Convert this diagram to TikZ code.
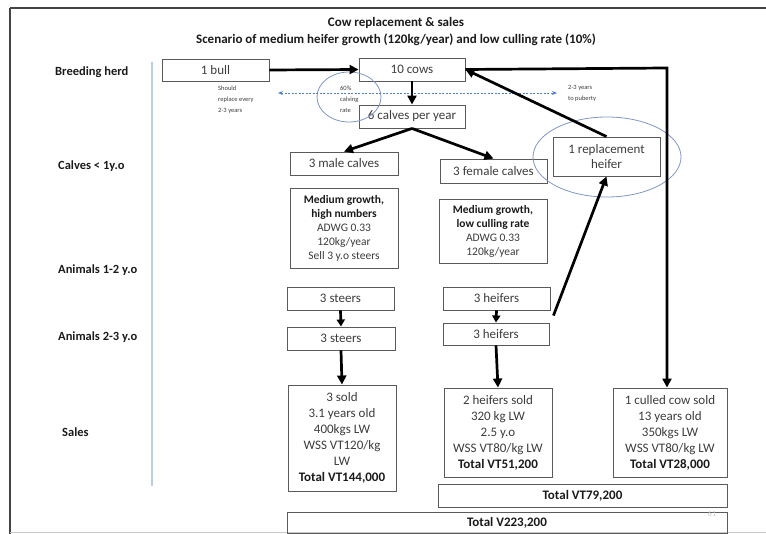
\documentclass[tikz,border=0pt]{standalone}
\usepackage{fontspec}
\setmainfont{Carlito}
\usetikzlibrary{arrows.meta}
\definecolor{boxline}{HTML}{5A5A5A}
\definecolor{bodytext}{HTML}{3C3C3C}
\definecolor{heading}{HTML}{1A1A1A}
\definecolor{ringblue}{HTML}{7F96C6}
\definecolor{dashblue}{HTML}{4F7FCF}
\definecolor{rulegray}{HTML}{444444}
\definecolor{pagegray}{HTML}{C8C8C8}
\definecolor{axisblue}{HTML}{B9CDE6}
\tikzset{
  box/.style={draw=boxline, line width=0.9pt, rectangle, inner sep=0pt,
    align=center, text=bodytext, font=\fontsize{13}{16}\selectfont},
  infobox/.style={box, font=\fontsize{11.5}{14}\selectfont},
  rowlabel/.style={anchor=west, inner sep=0pt, text=heading,
    font=\bfseries\fontsize{12.5}{15}\selectfont},
  note/.style={anchor=west, inner sep=0pt, align=left, text=bodytext,
    font=\fontsize{6.5}{11}\selectfont},
  flow/.style={line width=2.7pt, black, -{Triangle[length=9pt,width=9pt]}},
  shortflow/.style={line width=2.7pt, black, -{Triangle[length=7pt,width=8pt]}},
  ring/.style={draw=ringblue, line width=0.8pt},
}
\begin{document}
\begin{tikzpicture}[x=1pt, y=-1pt]
\useasboundingbox (0,0) rectangle (766,534);

% page frame
\draw[rulegray, line width=2pt] (10,8) -- (766,8);
\draw[rulegray, line width=2pt] (10,8) -- (10,534);
\draw[pagegray, line width=0.8pt] (10,532.5) -- (766,532.5);

% title
\node[text=heading, font=\bfseries\fontsize{13}{17}\selectfont, align=center] (title) at (396,31.5)
  {Cow replacement \& sales\\Scenario of medium heifer growth (120kg/year) and low culling rate (10\%)};

% row labels and axis line
\node[rowlabel] (lbreed) at (55,72) {Breeding herd};
\node[rowlabel] (lcalves) at (58,166) {Calves < 1y.o};
\node[rowlabel] (la12) at (58,270) {Animals 1-2 y.o};
\node[rowlabel] (la23) at (58,337) {Animals 2-3 y.o};
\node[rowlabel] (lsales) at (62,432) {Sales};
\draw[axisblue, line width=1.2pt] (152,62) -- (152,486);

% breeding herd
\node[box, minimum width=107pt, minimum height=22pt] (bull) at (215.5,70) {1 bull};
\node[box, minimum width=106pt, minimum height=23pt] (cows) at (412,69.5) {10 cows};
\node[box, minimum width=106pt, minimum height=23pt] (calves) at (412,116.5) {6 calves per year};

% calving-rate ring and notes
\draw[ring] (349,97) ellipse [x radius=32pt, y radius=25pt];
\node[note] (calvrate) at (340,99) {60\%\\calving\\rate};
\node[note] (bullnote) at (218,100) {Should\\replace every\\2-3 years};
\node[note] (puberty) at (568,93) {2-3 years\\to puberty};
\coordinate (spanL) at (278,93);
\coordinate (spanR) at (557,93);
\draw[dashblue, line width=0.8pt, dash pattern=on 2pt off 1.5pt,
  {Stealth[length=5pt,width=4pt]}-{Stealth[length=5pt,width=4pt]}] (spanL) -- (spanR);

% calves under one year
\node[box, minimum width=108pt, minimum height=23pt] (male) at (344,163.5) {3 male calves};
\node[box, minimum width=107pt, minimum height=24pt] (female) at (493.5,171) {3 female calves};
\node[box, minimum width=107pt, minimum height=39pt, font=\fontsize{13}{15}\selectfont] (repl) at (606.5,156.5) {1 replacement\\heifer};
\draw[ring] (607,157) ellipse [x radius=74pt, y radius=40pt];

\node[infobox, minimum width=108pt, minimum height=80pt] (maleinfo) at (344,228)
  {\textcolor{heading}{\bfseries Medium growth,}\\\textcolor{heading}{\bfseries high numbers}\\ADWG 0.33\\120kg/year\\Sell 3 y.o steers};
\node[infobox, minimum width=108pt, minimum height=64pt] (femaleinfo) at (493,231)
  {\textcolor{heading}{\bfseries Medium growth,}\\\textcolor{heading}{\bfseries low culling rate}\\ADWG 0.33\\120kg/year};

% older animals
\node[box, minimum width=107pt, minimum height=23pt] (steers1) at (340.5,298.5) {3 steers};
\node[box, minimum width=108pt, minimum height=23pt] (steers2) at (341,338.5) {3 steers};
\node[box, minimum width=107pt, minimum height=23pt] (heifers1) at (496.5,298.5) {3 heifers};
\node[box, minimum width=106pt, minimum height=22pt] (heifers2) at (496,334) {3 heifers};

% sales
\node[box, minimum width=108pt, minimum height=106pt] (sold3) at (342,438)
  {3 sold\\3.1 years old\\400kgs LW\\WSS VT120/kg\\LW\\\textcolor{heading}{\bfseries Total VT144,000}};
\node[box, minimum width=108pt, minimum height=89pt] (sold2) at (498,432.5)
  {2 heifers sold\\320 kg LW\\2.5 y.o\\WSS VT80/kg LW\\\textcolor{heading}{\bfseries Total VT51,200}};
\node[box, minimum width=114pt, minimum height=89pt] (culled) at (670,432.5)
  {1 culled cow sold\\13 years old\\350kgs LW\\WSS VT80/kg LW\\\textcolor{heading}{\bfseries Total VT28,000}};
\node[box, minimum width=289pt, minimum height=23pt, text=heading, font=\bfseries\fontsize{13}{16}\selectfont] (tot79) at (582.5,495.5) {Total VT79,200};
\node[box, minimum width=440pt, minimum height=21pt, text=heading, font=\bfseries\fontsize{13}{16}\selectfont] (tot223) at (507,522.5) {Total V223,200};
\node[text=pagegray, font=\fontsize{8}{9}\selectfont, inner sep=0pt] (pageno) at (712,514) {61};

% flows
\draw[flow] (bull.east) -- (cows.west);
\draw[flow] (cows.south) -- (calves.north);
\draw[flow] (calves.south) -- (male.north);
\draw[flow] (calves.south) -- (female.north);
\draw[flow] (repl.north) -- (cows.east);
\coordinate (cullturn) at (667,68);
\draw[flow] (cows.east) -- (cullturn) -- (cullturn |- culled.north);
\draw[shortflow] (steers1.south) -- (steers2.north);
\draw[flow] (steers2.south) -- (sold3.north);
\draw[shortflow] (heifers1.south) -- (heifers2.north);
\draw[flow] (heifers2.south) -- (sold2.north);
\draw[flow] ([shift={(4,-7)}]heifers2.north east) -- (repl.south);
\end{tikzpicture}
\end{document}
